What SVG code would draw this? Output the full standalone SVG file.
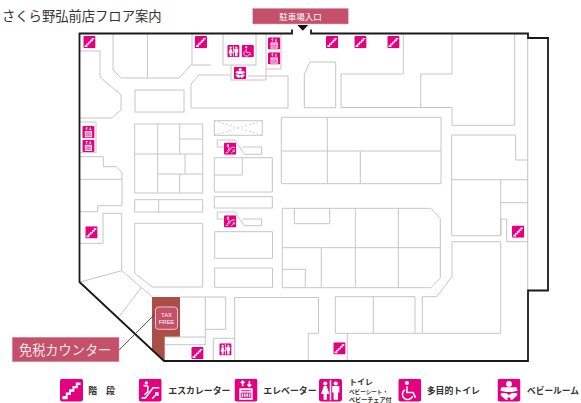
<svg xmlns="http://www.w3.org/2000/svg" width="581" height="403" viewBox="0 0 581 403">
<style>
.g{fill:none;stroke:#c6c6c6;stroke-width:1;stroke-linejoin:miter}
.d{fill:none;stroke:#c6c6c6;stroke-width:.8;stroke-dasharray:2 2}
.w{fill:none;stroke:#1a1a1a;stroke-width:1.8}
.t{font-family:"Noto Sans CJK JP","Noto Sans",sans-serif;fill:#333}
.l{font-size:8.9px;font-weight:700}
.bg{fill:#e5007f}
.s{fill:none;stroke:#fff;stroke-width:1.6}
.f{fill:#fff}
</style>
<defs>
<symbol id="stair" viewBox="0 0 24 24"><rect class="bg" width="24" height="24" rx="2.500"/><path class="f" d="M2.500 21.500V18H6V14.500H9.500V11H13V7.500H16.500V4H21.500V6.500H18.500V10H15V13.500H11.500V17H8V21.500Z"/></symbol>
<symbol id="esc" viewBox="0 0 24 24"><rect class="bg" width="24" height="24" rx="2.500"/><circle class="f" cx="8" cy="4.500" r="1.800"/><path class="s" d="M3 20H7L15 9.500H21.500"/><path class="s" d="M5 7L9.500 8V13.500L6 17"/><path class="s" stroke-width="1" d="M14 21L20 15M17 15H20V18"/></symbol>
<symbol id="elev" viewBox="0 0 24 24"><rect class="bg" width="24" height="24" rx="2.500"/><path class="s" stroke-width="1" d="M8.500 8V2.500M6.500 4.500L8.500 2.500L10.500 4.500M15.500 2.500V8M13.500 6L15.500 8L17.500 6"/><rect class="f" x="5" y="10" width="14" height="12"/><path fill="none" stroke="#e5007f" d="M7 12.500H17M7 15H17V19.500H7ZM9.500 15V19.500M12 15V19.500M14.500 15V19.500"/></symbol>
<symbol id="wc" viewBox="0 0 24 24"><rect class="bg" width="24" height="24" rx="2.500"/><path class="s" stroke-width="1.200" d="M12 1.500V22.500"/><circle class="f" cx="6.500" cy="5" r="2.200"/><path class="f" d="M5 7.500H8L10.800 16H8.200V22H4.800V16H2.200Z"/><circle class="f" cx="17.500" cy="5" r="2.200"/><path class="f" d="M13.800 7.500H21.200V14.500H19.800V22H15.200V14.500H13.800Z"/></symbol>
<symbol id="dis" viewBox="0 0 24 24"><rect class="bg" width="24" height="24" rx="2.500"/><circle class="f" cx="9" cy="4.500" r="2.200"/><path class="s" stroke-width="2.200" d="M9 8V14.500H15.500L18 20"/><path class="s" stroke-width="1.800" d="M7 11.500A5.500 5.500 0 1 0 15 18"/></symbol>
<symbol id="baby" viewBox="0 0 24 24"><rect class="bg" width="24" height="24" rx="2.500"/><circle class="f" cx="12" cy="5.500" r="3"/><path class="f" d="M4 9H20L21 12.500L15 14H9L3 12.500Z"/><path class="f" d="M3.500 15H9L12 17L15 15H20.500V17.500L15.500 22H13.500V19.500H10.500V22H8.500L3.500 17.500Z"/></symbol>
</defs>

<g id="title"><text class="t" x="2" y="20.500" font-size="13.300">さくら野弘前店フロア案内</text></g>

<g id="tax-area"><polygon points="152,297 180,297 180,337 164.700,337 164.700,361 152,349.800" fill="#a94f46"/></g>

<g id="rooms">
<path class="g" d="M80 51H100V77L121 95V110L112 118H80"/>
<path class="g" d="M113 34V70L121 78H179L192 64V34M147.500 34V78M192 65H211"/>
<rect class="g" x="135" y="90" width="49" height="22"/>
<path class="g" d="M248 76H288V108H191V84L199 75H230"/>
<path class="g" d="M223 34V65H256V34M231 65V80H266V34M266 69H281V34"/>
<path class="g" d="M304.300 107.700V74L310 62H335.700V107.700Z"/>
<path class="g" d="M403.300 34V74H341V107.500H452V125.300H514.700V34M452 34V74H420.700V107.500"/>
<path class="g" d="M527.700 38V290"/>
<path class="g" d="M281.300 117.300H441V183.700H281.300ZM281.300 151H441M327.300 117.300V183.700M360.300 151V183.700"/>
<path class="g" d="M515.700 135H451.700V235.700H500.700V180M451.700 179.700H528M500.700 202.700H528M515.700 135V160H528M501 235.700V219H506.700V241.700H528"/>
<path class="g" d="M452 241.700H500.700V333.300H422.300V296.700H436.700L452 276.700Z"/>
<path class="g" d="M282.300 208.300H430.700L440.300 218.300V278L431 287.700H282.300ZM282.300 247.700H440.300M355.300 208.300V287.700M398.300 208.300V287.700M321.300 247.700V287.700M294.300 208.300V223.700H329.700V208.300M282.300 269.300H305.300V287.700"/>
<path class="g" d="M234.700 361V297.500H318.500V333.300H308.300V361M347.300 333.300V361"/>
<path class="g" d="M335.300 333.300V296.700H415V333.300ZM373.300 296.700V333.300M415 333.300H422.300"/>
<path class="g" d="M80 282L121.700 270.700L152 296.700M121.700 270.700V213.300H103V243.300H80M141 288L119 316.700"/>
<path class="g" d="M180 297H225.700V329.300H205.300M205.300 297V344.700H165M164.700 337H205.300M213.300 361V338.300H234.700"/>
<path class="g" d="M134.700 223.300H202.700V287H152.300L134.700 273.300Z"/>
<path class="g" d="M214.700 231.700H272.500V258.300H214.700ZM214.700 268H272.500V287.300H214.700Z"/>
<path class="g" d="M134.700 124H202.700V193H134.700ZM157.700 124V193M179.700 124V154M179.700 174V193M185 154V174M179.700 139H202.700M134.700 154H202.700M157.700 174H202.700"/>
<path class="g" d="M134.700 199.700H202.700V212H134.700ZM158.700 199.700V212"/>
<rect class="g" x="214.300" y="120.700" width="48" height="14.600"/>
<path class="d" d="M214.300 120.700L262.300 135.300M214.300 135.300L262.300 120.700"/>
<path class="g" d="M225 147H217.300V140H235L244.300 154.300H261.700V147H242.700"/>
<path class="g" d="M214.300 157.700H272.300V192H214.300ZM214.300 175H242.300V157.700"/>
<rect class="g" x="214.300" y="196.700" width="58" height="11.300"/>
<path class="g" d="M225 219H217.300V212H235L244.300 225.700H261.700V219H242.700"/>
<path class="g" d="M80 156.700H103.300V166.700H116L122 172.300V205.700H97.700V211.700H80M80 179.300H122"/>
<path class="g" d="M80 122H96V152.700H80"/>
</g>

<g id="walls">
<path class="w" d="M292 29.500V33.500H79.500V282L164 361H528V290.500H548V38H528V33.500H311V29.500"/>
</g>

<g id="icons">
<use href="#stair" x="83.300" y="36" width="12.300" height="12.300"/>
<use href="#stair" x="194.700" y="36" width="12.300" height="12.300"/>
<use href="#stair" x="326" y="36" width="12.300" height="12.300"/>
<use href="#stair" x="354.300" y="36" width="12.300" height="12.300"/>
<use href="#stair" x="387.300" y="36" width="12.300" height="12.300"/>
<use href="#stair" x="85.300" y="226.300" width="12.300" height="12.300"/>
<use href="#stair" x="512" y="225.500" width="12.300" height="12.300"/>
<use href="#stair" x="333.300" y="342.300" width="12.300" height="12.300"/>
<use href="#stair" x="191.300" y="347" width="12.300" height="12.300"/>
<use href="#wc" x="227.300" y="45" width="12.300" height="12.300"/>
<use href="#dis" x="241.600" y="45" width="12.300" height="12.300"/>
<use href="#baby" x="234" y="66.700" width="12.300" height="12.300"/>
<use href="#elev" x="268" y="37.300" width="12.300" height="12.300"/>
<use href="#elev" x="268" y="52.300" width="12.300" height="12.300"/>
<use href="#elev" x="82.300" y="126" width="12.300" height="12.300"/>
<use href="#elev" x="82.300" y="139.700" width="12.300" height="12.300"/>
<use href="#esc" x="224" y="142.500" width="12.300" height="12.300"/>
<use href="#esc" x="224" y="215.200" width="12.300" height="12.300"/>
<use href="#wc" x="219.300" y="343.200" width="12.300" height="12.300"/>
</g>

<g id="entrance">
<rect x="252.700" y="8.300" width="95.600" height="15.700" fill="#c4506a" stroke="#e6b4c0" stroke-width=".5"/>
<text x="300.500" y="19.500" font-size="8.500" fill="#fff" text-anchor="middle" font-family="'Noto Sans CJK JP',sans-serif">駐車場入口</text>
<polygon points="297.300,25 308.300,25 302.800,30.700" fill="#111"/>
</g>

<g id="tax-free">
<path d="M119 350L155 314" fill="none" stroke="#333" stroke-width=".8"/>
<rect x="155.500" y="307" width="22" height="22.300" rx="3" fill="#c4506a" stroke="#f0c4cc" stroke-width="1"/>
<text x="166.500" y="316.500" font-size="5.800" fill="#fff" text-anchor="middle" font-family="'Liberation Sans',sans-serif">TAX</text>
<text x="166.500" y="324" font-size="5.800" fill="#fff" text-anchor="middle" font-family="'Liberation Sans',sans-serif">FREE</text>
<rect x="12.300" y="337.300" width="106.700" height="24.400" fill="#c4506a" stroke="#d98a9c" stroke-width=".5"/>
<text x="19" y="355" font-size="13.200" fill="#f6e6ea" font-family="'Noto Sans CJK JP',sans-serif">免税カウンター</text>
</g>

<g id="legend">
<use href="#stair" x="60" y="378.700" width="23" height="23"/>
<text class="t l" x="88.300" y="394">階　段</text>
<use href="#esc" x="138.700" y="378.700" width="23" height="23"/>
<text class="t l" x="168.300" y="394">エスカレーター</text>
<use href="#elev" x="234.500" y="378.700" width="23" height="23"/>
<text class="t l" x="263.300" y="394">エレベーター</text>
<use href="#wc" x="319" y="378.700" width="23" height="23"/>
<text class="t" x="349" y="385" font-size="8" font-weight="700">トイレ</text>
<text class="t" x="349" y="393.500" font-size="5.600" font-weight="700">ベビーシート・</text>
<text class="t" x="349" y="402" font-size="6.100" font-weight="700">ベビーチェア付</text>
<use href="#dis" x="398.300" y="378.700" width="23" height="23"/>
<text class="t l" x="426.700" y="394">多目的トイレ</text>
<use href="#baby" x="497.500" y="378.700" width="23" height="23"/>
<text class="t l" x="527" y="394" style="font-size:8.700px">ベビールーム</text>
</g>
</svg>
